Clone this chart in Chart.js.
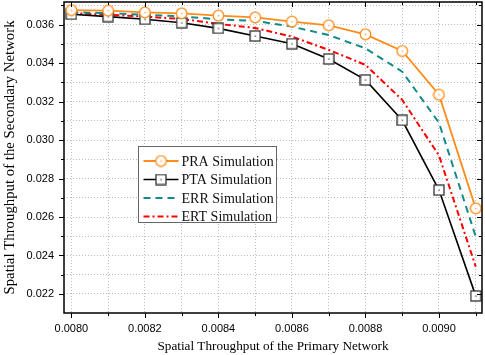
<!DOCTYPE html>
<html>
<head>
<meta charset="utf-8">
<script src="https://cdn.jsdelivr.net/npm/chart.js@4/dist/chart.umd.min.js"></script>
<style>
  html, body { margin: 0; padding: 0; background: #fff; }
  #wrap { width: 485px; height: 355px; }
</style>
</head>
<body>
<div id="wrap"><canvas id="chart"></canvas></div>
<script>
// Data
const xValues = [0.0080, 0.0081, 0.0082, 0.0083, 0.0084, 0.0085, 0.0086, 0.0087, 0.0088, 0.0089, 0.0090, 0.0091];
const praSim = [0.03676, 0.03673, 0.03664, 0.03659, 0.03647, 0.03638, 0.03616, 0.03597, 0.03550, 0.03463, 0.03236, 0.02645];
const ptaSim = [0.03654, 0.03642, 0.03628, 0.03610, 0.03581, 0.03541, 0.03501, 0.03422, 0.03313, 0.03103, 0.02740, 0.02190];
const errSim = [0.03665, 0.03660, 0.03652, 0.03643, 0.03628, 0.03620, 0.03590, 0.03546, 0.03477, 0.03356, 0.03090, 0.02498];
const ertSim = [0.03660, 0.03652, 0.03642, 0.03630, 0.03604, 0.03583, 0.03538, 0.03469, 0.03391, 0.03209, 0.02920, 0.02342];
const seriesNames = ['PRA Simulation', 'PTA Simulation', 'ERR Simulation', 'ERT Simulation'];

const ORANGE = '#ff8c1a';
const TEAL = '#138a8a';
const RED = '#ff0000';

// marker images (open symbols with a small dot in the middle)
function circleMarker() {
    const c = document.createElement('canvas');
    c.width = 13; c.height = 13;
    const g = c.getContext('2d');
    g.fillStyle = '#fff';
    g.strokeStyle = ORANGE;
    g.lineWidth = 1.3;
    g.beginPath(); g.arc(6.5, 6.5, 5.3, 0, Math.PI * 2); g.fill(); g.stroke();
    g.fillStyle = ORANGE;
    g.fillRect(6, 6, 1.2, 1.2);
    return c;
}
function squareMarker() {
    const c = document.createElement('canvas');
    c.width = 12; c.height = 12;
    const g = c.getContext('2d');
    g.fillStyle = '#fff';
    g.strokeStyle = '#333';
    g.lineWidth = 1.3;
    g.fillRect(1, 1, 10, 10);
    g.strokeRect(1, 1, 10, 10);
    g.fillStyle = '#222';
    g.fillRect(5.5, 5.5, 1.2, 1.2);
    return c;
}
const circleImg = circleMarker();
const squareImg = squareMarker();

function toPoints(ys) {
    return xValues.map((x, i) => ({ x: x, y: ys[i] }));
}

function noPad(scale) {
    scale.paddingLeft = 0; scale.paddingRight = 0;
    scale.paddingTop = 0; scale.paddingBottom = 0;
}

// frame, tick marks and legend box
const framePlugin = {
    id: 'frame',
    afterDraw(chart) {
        const ctx = chart.ctx;
        const a = chart.chartArea;
        const xs = chart.scales.x, ys = chart.scales.y;
        ctx.save();
        ctx.strokeStyle = '#000';
        ctx.lineWidth = 1.5;
        ctx.strokeRect(a.left, a.top, a.right - a.left, a.bottom - a.top);
        ctx.lineWidth = 1;
        ctx.beginPath();
        for (let k = 80; k <= 91; k++) {
            const px = Math.round(xs.getPixelForValue(k / 10000)) + 0.5;
            const len = k % 2 === 0 ? 5 : 3;
            ctx.moveTo(px, a.bottom); ctx.lineTo(px, a.bottom + len);
            ctx.moveTo(px, a.top); ctx.lineTo(px, a.top + len);
        }
        for (let k = 22; k <= 37; k++) {
            const py = Math.round(ys.getPixelForValue(k / 1000)) + 0.5;
            if (py < a.top || py > a.bottom) continue;
            const len = k % 2 === 0 ? 5 : 3;
            ctx.moveTo(a.left, py); ctx.lineTo(a.left - len, py);
            ctx.moveTo(a.right, py); ctx.lineTo(a.right - len, py);
        }
        ctx.stroke();

        // legend
        const lx = 138.5, ly = 146.5, lw = 138, lh = 76;
        ctx.fillStyle = '#fff';
        ctx.fillRect(lx, ly, lw, lh);
        ctx.strokeStyle = '#666';
        ctx.lineWidth = 1;
        ctx.strokeRect(lx, ly, lw, lh);
        ctx.font = '14px "Liberation Serif", "Times New Roman", serif';
        ctx.textBaseline = 'middle';
        chart.data.datasets.forEach((ds, i) => {
            const cy = 161 + i * 18.5;
            ctx.strokeStyle = ds.borderColor;
            ctx.lineWidth = ds.borderWidth;
            ctx.setLineDash(ds.borderDash || []);
            ctx.beginPath();
            ctx.moveTo(lx + 5, cy); ctx.lineTo(lx + 40, cy);
            ctx.stroke();
            ctx.setLineDash([]);
            if (ds.pointStyle instanceof HTMLCanvasElement) {
                const img = ds.pointStyle;
                ctx.drawImage(img, lx + 22.5 - img.width / 2, cy - img.height / 2);
            }
            ctx.fillStyle = '#111';
            ctx.fillText(ds.label, lx + 43, cy + 1);
        });
        ctx.restore();
    }
};

new Chart(document.getElementById('chart'), {
    type: 'line',
    data: {
        datasets: [
            {
                label: seriesNames[0], data: toPoints(praSim),
                borderColor: ORANGE, borderWidth: 1.8,
                pointStyle: circleImg, pointRadius: 6
            },
            {
                label: seriesNames[1], data: toPoints(ptaSim),
                borderColor: '#000', borderWidth: 1.6,
                pointStyle: squareImg, pointRadius: 6
            },
            {
                label: seriesNames[2], data: toPoints(errSim),
                borderColor: TEAL, borderWidth: 2, borderDash: [7, 5],
                pointRadius: 0
            },
            {
                label: seriesNames[3], data: toPoints(ertSim),
                borderColor: RED, borderWidth: 2, borderDash: [6, 3, 2, 3],
                pointRadius: 0
            }
        ]
    },
    options: {
        responsive: true,
        maintainAspectRatio: false,
        animation: false,
        layout: { autoPadding: false, padding: { top: 2, right: 3, left: 0, bottom: 0 } },
        plugins: {
            legend: { display: false },
            tooltip: { enabled: false }
        },
        elements: { line: { tension: 0 } },
        scales: {
            x: {
                type: 'linear',
                min: 0.00798,
                max: 0.009117,
                afterFit(scale) { scale.height = 42; noPad(scale); },
                border: { display: false, dash: [1, 2] },
                grid: { color: '#bdbdbd', drawTicks: false },
                ticks: {
                    stepSize: 0.0001,
                    includeBounds: false,
                    autoSkip: false,
                    maxRotation: 0,
                    padding: 9,
                    color: '#000',
                    font: { family: '"Liberation Sans", Arial, sans-serif', size: 11 },
                    callback(v) {
                        return Math.round(v / 0.0001) % 2 === 0 ? v.toFixed(4) : '';
                    }
                },
                title: {
                    display: true,
                    text: 'Spatial Throughput of the Primary Network',
                    color: '#000',
                    padding: { top: 0, bottom: 1 },
                    font: { family: '"Liberation Serif", "Times New Roman", serif', size: 13.2 }
                }
            },
            y: {
                type: 'linear',
                min: 0.02101,
                max: 0.03718,
                afterFit(scale) { scale.width = 64; noPad(scale); },
                border: { display: false, dash: [1, 2] },
                grid: { color: '#bdbdbd', drawTicks: false },
                ticks: {
                    stepSize: 0.001,
                    includeBounds: false,
                    autoSkip: false,
                    padding: 10,
                    color: '#000',
                    font: { family: '"Liberation Sans", Arial, sans-serif', size: 11 },
                    callback(v) {
                        return Math.round(v / 0.001) % 2 === 0 ? v.toFixed(3) : '';
                    }
                },
                title: {
                    display: true,
                    text: 'Spatial Throughput of the Secondary Network',
                    color: '#000',
                    padding: { top: 1, bottom: 0 },
                    font: { family: '"Liberation Serif", "Times New Roman", serif', size: 14.8 }
                }
            }
        }
    },
    plugins: [framePlugin]
});
</script>
</body>
</html>
